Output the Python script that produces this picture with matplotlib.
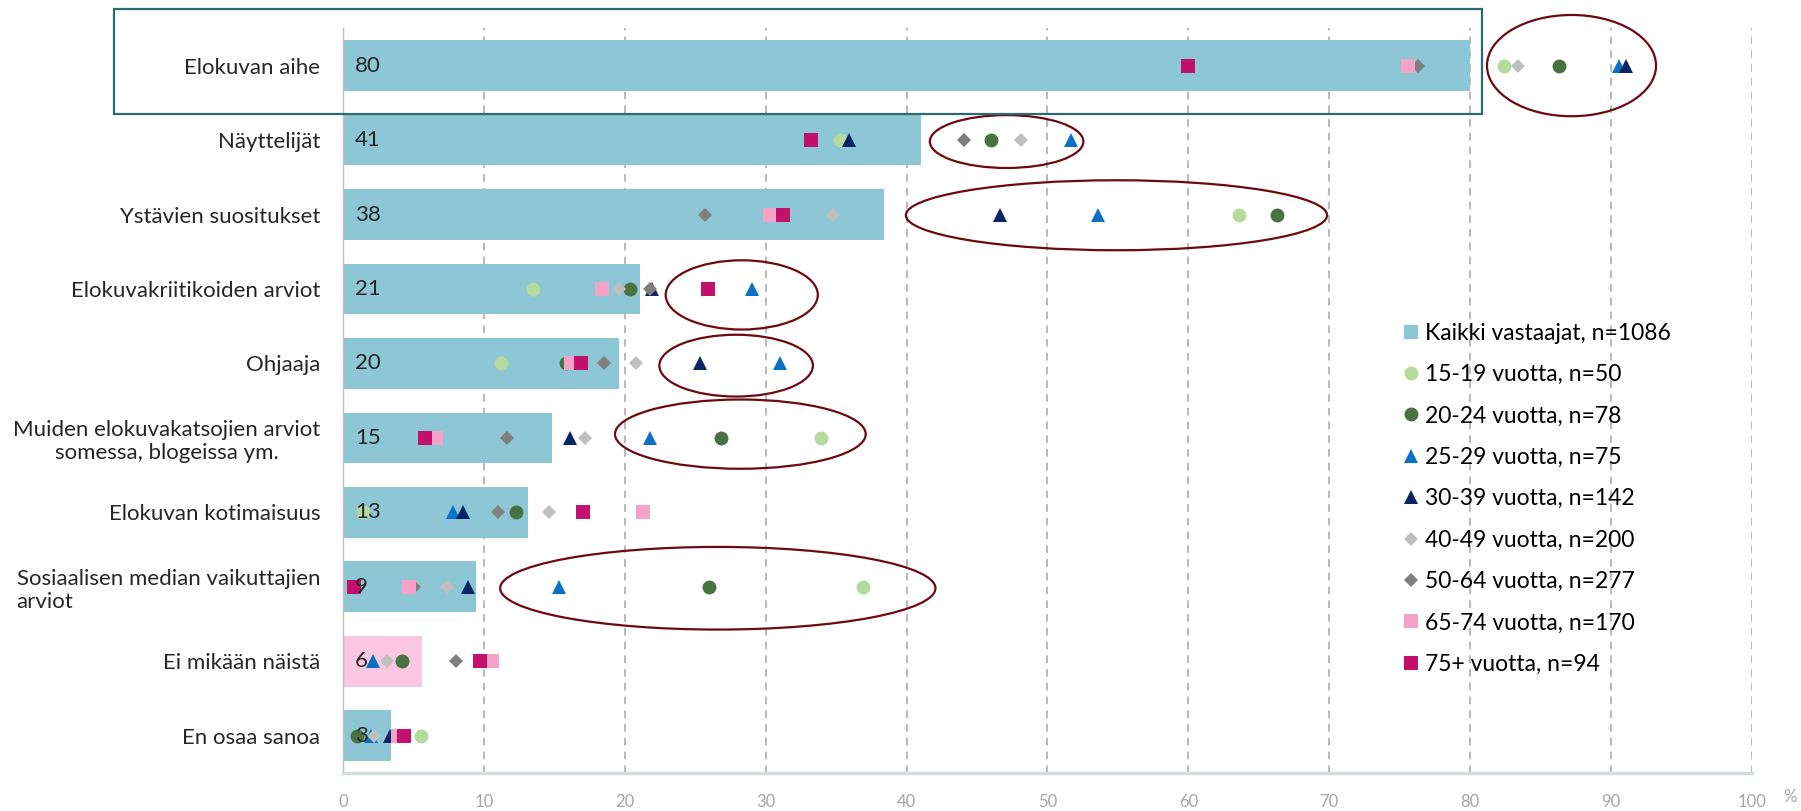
import matplotlib
matplotlib.use("Agg")
import matplotlib.pyplot as plt
from matplotlib.patches import Ellipse, Rectangle
from matplotlib.lines import Line2D
import numpy as np

plt.rcParams['font.family'] = ['Lato', 'DejaVu Sans']

# Categories (top to bottom)
categories = ["Elokuvan aihe", "Näyttelijät", "Ystävien suositukset",
              "Elokuvakriitikoiden arviot", "Ohjaaja",
              "Muiden elokuvakatsojien arviot\nsomessa, blogeissa ym.",
              "Elokuvan kotimaisuus",
              "Sosiaalisen median vaikuttajien\narviot",
              "Ei mikään näistä", "En osaa sanoa"]
label_align = ["right", "right", "right", "right", "right",
               "center", "right", "left", "right", "right"]

# All respondents (bars), %
kaikki = [80.0, 41.0, 38.4, 21.1, 19.6, 14.8, 13.1, 9.4, 5.6, 3.4]
kaikki_label = "Kaikki vastaajat, n=1086"

# Age groups, %  (nan = not visible in the source)
nan = np.nan
v15_19 = [82.4, 35.3, 63.6, 13.5, 11.2, 33.9, 1.4, 36.9, 4.2, 5.5]
v20_24 = [86.3, 46.0, 66.3, 20.4, 15.8, 26.8, 12.3, 26.0, 4.2, 1.0]
v25_29 = [90.6, 51.7, 53.6, 29.0, 31.0, 21.8, 7.8, 15.3, 2.1, 2.0]
v30_39 = [91.1, 35.9, 46.6, 21.9, 25.3, 16.1, 8.5, 8.9, nan, 3.3]
v40_49 = [83.4, 48.1, 34.8, 19.6, 20.8, 17.2, 14.6, 7.4, 3.1, 2.2]
v50_64 = [76.3, 44.1, 25.7, 21.8, 18.5, 11.6, 11.0, 5.0, 8.0, nan]
v65_74 = [75.6, 33.2, 30.3, 18.4, 16.2, 6.6, 21.3, 4.7, 10.6, 3.9]
v75 = [60.0, 33.2, 31.2, 25.9, 16.9, 5.8, 17.0, 0.8, 9.7, 4.3]

group_names = ["15-19 vuotta, n=50", "20-24 vuotta, n=78", "25-29 vuotta, n=75",
               "30-39 vuotta, n=142", "40-49 vuotta, n=200", "50-64 vuotta, n=277",
               "65-74 vuotta, n=170", "75+ vuotta, n=94"]
group_values = [v15_19, v20_24, v25_29, v30_39, v40_49, v50_64, v65_74, v75]
group_colors = ["#B5DA9D", "#4A7142", "#0A72C4", "#0B2466",
                "#BFBFBF", "#7F7F7F", "#F4A2C8", "#C2106B"]
group_markers = ["o", "o", "^", "^", "D", "D", "s", "s"]
group_msize = [10, 10, 10, 10, 7.5, 7.5, 10, 10]

bar_color = "#8DC6D5"
bar_color_alt = "#FAC7E1"  # "Ei mikään näistä" bar

# Highlight ellipses: (x centre, row, width, height in rows)
ellipses = [(87.2, 0.0, 12.0, 1.36), (47.1, 1.02, 10.9, 0.71),
            (54.9, 2.01, 29.9, 0.94), (28.3, 3.08, 10.8, 0.93),
            (27.9, 4.03, 10.9, 0.83), (28.2, 4.95, 17.8, 0.93),
            (26.6, 7.02, 30.9, 1.11)]

fig = plt.figure(figsize=(18.01, 8.11), dpi=100)
ax = fig.add_axes([0.1905, 0.047, 0.7822, 0.918])

y = np.arange(len(categories))
colors = [bar_color] * len(categories)
colors[8] = bar_color_alt
ax.barh(y, kaikki, height=0.68, color=colors, zorder=2)

for vals, col, mk, ms in zip(group_values, group_colors, group_markers, group_msize):
    ax.plot(vals, y, linestyle="none", marker=mk, markersize=ms,
            color=col, markeredgewidth=0, zorder=3)

for i, v in enumerate(kaikki):
    ax.text(0.85, i, str(int(round(v))), va="center", ha="left",
            fontsize=16, color="#262626", zorder=5)

for cx, cy, w, h in ellipses:
    ax.add_patch(Ellipse((cx, cy), w, h, fill=False, edgecolor="#6B0A0F",
                         linewidth=1.6, zorder=4, clip_on=False))

ax.set_xlim(0, 100)
ax.set_ylim(9.5, -0.5)
ax.set_xticks(np.arange(0, 101, 10))
ax.set_yticks(y)
ax.set_yticklabels(categories, fontsize=16, color="#262626")
for lab, al in zip(ax.get_yticklabels(), label_align):
    lab.set_multialignment(al)
ax.tick_params(axis="y", length=0, pad=16.5)
ax.tick_params(axis="x", length=0, pad=15, labelsize=12, labelcolor="#A6A6A6")

ax.grid(axis="x", linestyle=(0, (5, 4)), color="#A6A6A6", linewidth=1.1, zorder=0)
ax.set_axisbelow(True)
for s in ["top", "right"]:
    ax.spines[s].set_visible(False)
ax.spines["left"].set_color("#BFBFBF")
ax.spines["left"].set_linewidth(1)
ax.spines["bottom"].set_color("#D5DDE0")
ax.spines["bottom"].set_linewidth(2.5)

fig.text(1790 / 1801, 1 - 797 / 811, "%", fontsize=12, color="#A6A6A6",
         ha="center", va="center")

# Frame around the first row
fig.add_artist(Rectangle((113.7 / 1801, 1 - 113.7 / 811), 1368 / 1801, 104.5 / 811,
                         transform=fig.transFigure, fill=False,
                         edgecolor="#2D6A74", linewidth=1.6))

handles = [Line2D([], [], linestyle="none", marker="s", markersize=10,
                  color=bar_color, markeredgewidth=0)]
for col, mk, ms in zip(group_colors, group_markers, group_msize):
    handles.append(Line2D([], [], linestyle="none", marker=mk, markersize=ms,
                          color=col, markeredgewidth=0))
ax.legend(handles, [kaikki_label] + group_names, loc="upper left",
          bbox_to_anchor=(0.743, 0.617), frameon=False, fontsize=16.5,
          labelspacing=0.89, handletextpad=0.1, handlelength=1.05,
          borderaxespad=0)

fig.savefig("out.png", dpi=100)
